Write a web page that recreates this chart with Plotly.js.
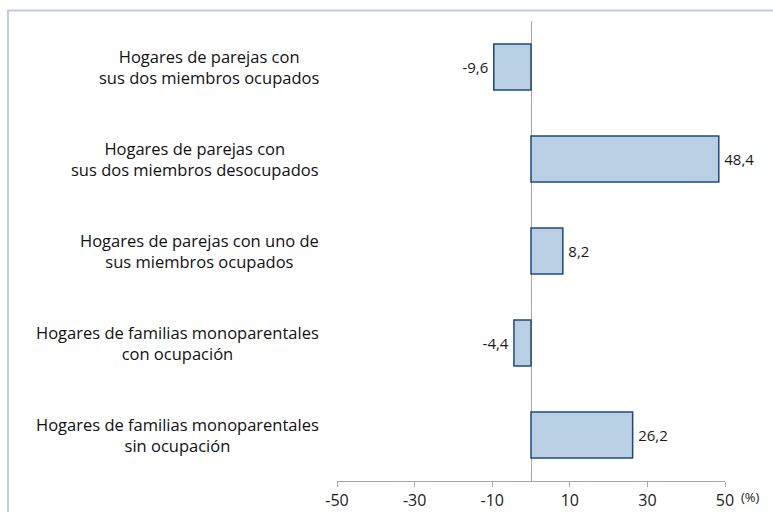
<!DOCTYPE html>
<html><head><meta charset="utf-8">
<script src="https://cdn.plot.ly/plotly-3.0.1.min.js"></script>
<style>html,body{margin:0;padding:0;background:#fff;}#chart{width:773px;height:512px;}</style>
</head><body><div id="chart"></div>
<script>
const categories = [
  "Hogares de parejas con<br>sus dos miembros ocupados",
  "Hogares de parejas con<br>sus dos miembros desocupados",
  "Hogares de parejas con uno de<br>sus miembros ocupados",
  "Hogares de familias monoparentales<br>con ocupación",
  "Hogares de familias monoparentales<br>sin ocupación"
];
const values = [-9.6, 48.4, 8.2, -4.4, 26.2];
const valueLabels = ["-9,6", "48,4", "8,2", "-4,4", "26,2"];
const tickVals = [-50, -30, -10, 10, 30, 50];
const tickText = ["-50", "-30", "-10", "10", "30", "50"];
const unitLabel = "(%)";

const FONT = "'Open Sans', 'Noto Sans', sans-serif";

const padded = valueLabels.map((t, i) => values[i] >= 0 ? "\u2009" + t : t + "\u2009");

const trace = {
  type: "bar", orientation: "h",
  x: values, y: categories,
  text: padded, textposition: "outside", cliponaxis: false,
  textfont: {family: FONT, size: 15, color: "#1a1a1a"},
  marker: {color: "#b9cfe4", line: {color: "#1f4a78", width: 1.5}},
  hoverinfo: "none"
};

const annotations = categories.map(c => ({
  xref: "paper", yref: "y", x: 0, y: c, xshift: -16,
  xanchor: "right", yanchor: "middle", align: "center",
  text: c, showarrow: false,
  font: {family: FONT, size: 16.5, color: "#111"}
}));
annotations.push({
  xref: "paper", yref: "paper", x: 1, y: 0, xshift: 14, yshift: -16,
  xanchor: "left", yanchor: "middle", text: unitLabel, showarrow: false,
  font: {family: FONT, size: 13, color: "#1a1a1a"}
});

const layout = {
  width: 773, height: 512,
  margin: {l: 337, r: 48, t: 21, b: 31},
  paper_bgcolor: "#fff", plot_bgcolor: "#fff",
  bargap: 0.5, showlegend: false,
  xaxis: {
    range: [-50, 50], tickmode: "array", tickvals: tickVals, ticktext: tickText,
    showgrid: false, zeroline: true, zerolinecolor: "#a6a6a6", zerolinewidth: 1,
    showline: true, linecolor: "#a6a6a6", linewidth: 1,
    ticks: "outside", ticklen: 5, tickcolor: "#a6a6a6",
    tickfont: {family: FONT, size: 16, color: "#1a1a1a"}
  },
  yaxis: {
    autorange: "reversed", showticklabels: false, showgrid: false,
    zeroline: false, showline: false, ticks: ""
  },
  annotations: annotations,
  shapes: [{
    type: "rect", xref: "paper", yref: "paper",
    x0: (8 - 337) / 388, x1: 1.3, y0: -0.3, y1: (481 - 10.5) / 460,
    line: {color: "#bccae6", width: 2}, fillcolor: "rgba(0,0,0,0)", layer: "below"
  }]
};

Plotly.newPlot("chart", [trace], layout, {staticPlot: true, displayModeBar: false});
</script></body></html>
